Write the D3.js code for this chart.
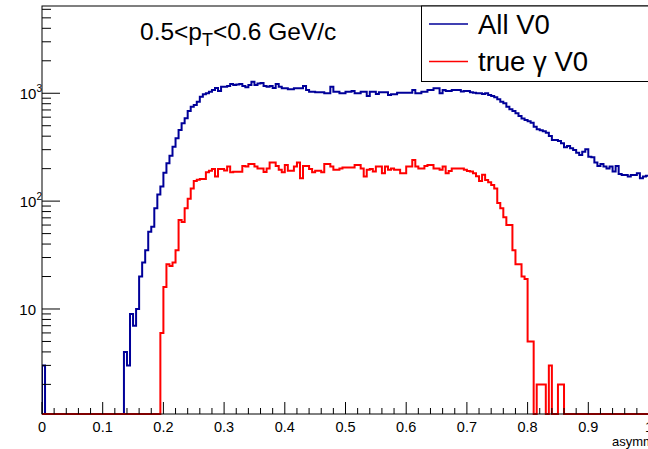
<!DOCTYPE html>
<html>
<head>
<meta charset="utf-8">
<script src="https://cdn.jsdelivr.net/npm/d3@7"></script>
<style>
  html, body { margin: 0; padding: 0; background: #fff; }
  svg { display: block; }
  text { font-family: "Liberation Sans", Arial, Helvetica, sans-serif; fill: #000; }
</style>
</head>
<body>
<svg id="chart" width="648" height="449"></svg>
<script>
// ---------- data ----------
const binWidth = 0.005;
const xTicks = [0, 0.1, 0.2, 0.3, 0.4, 0.5, 0.6, 0.7, 0.8, 0.9, 1];
const xTickLabels = ["0", "0.1", "0.2", "0.3", "0.4", "0.5", "0.6", "0.7", "0.8", "0.9", "1"];
const yTicks = [10, 100, 1000];
const yTickExps = ["", "2", "3"];
const seriesNames = ["All V0", "true \u03b3 V0"];
const xTitle = "asymmetry";

// All V0 (200 bins, width 0.005)
const allV0 = [
  3, 0, 0, 0, 0, 0, 0, 0, 0, 0,
  0, 0, 0, 0, 0, 0, 0, 0, 0, 0,
  0, 0, 0, 0, 0, 0, 0, 4, 3, 9,
  7, 10, 20, 27, 35, 52, 58, 86, 115, 137,
  183, 224, 263, 320, 383, 457, 527, 587, 685, 751,
  778, 836, 930, 978, 1000, 1035, 1073, 1120, 1050, 1152,
  1152, 1165, 1219, 1195, 1205, 1219, 1165, 1137, 1195, 1281,
  1195, 1230, 1246, 1165, 1152, 1165, 1120, 1219, 1152, 1113,
  1113, 1089, 1089, 1113, 1113, 1113, 1169, 1073, 1035, 1035,
  1022, 1022, 1022, 1000, 1000, 1152, 1035, 1035, 1000, 1000,
  1035, 1035, 1050, 1000, 1000, 1035, 1035, 944, 1035, 1035,
  985, 1022, 1022, 1022, 965, 978, 978, 1013, 1013, 1013,
  1013, 1013, 1073, 1000, 1000, 1035, 1035, 1073, 1073, 1113,
  1113, 1000, 1073, 1050, 1050, 1073, 1073, 1073, 1040, 1050,
  1050, 1020, 1010, 1000, 1000, 985, 1000, 965, 944, 918,
  880, 836, 808, 751, 710, 685, 653, 616, 582, 565,
  550, 534, 490, 463, 453, 444, 431, 402, 369, 369,
  361, 344, 316, 324, 309, 298, 281, 268, 287, 303,
  258, 255, 228, 212, 221, 209, 201, 209, 188, 212,
  178, 175, 175, 169, 175, 175, 181, 163, 169, 172
];

// true gamma V0 (200 bins, width 0.005)
const trueGammaV0 = [
  0, 0, 0, 0, 0, 0, 0, 0, 0, 0,
  0, 0, 0, 0, 0, 0, 0, 0, 0, 0,
  0, 0, 0, 0, 0, 0, 0, 0, 0, 0,
  0, 0, 0, 0, 0, 0, 0, 0, 0, 6,
  16, 26, 25, 27, 35, 67, 64, 86, 105, 131,
  154, 158, 160, 160, 185, 191, 198, 169, 198, 198,
  192, 209, 185, 187, 187, 187, 212, 209, 221, 221,
  209, 201, 201, 186, 201, 228, 228, 212, 195, 185,
  216, 191, 191, 209, 228, 163, 212, 212, 198, 185,
  191, 191, 185, 221, 221, 209, 195, 195, 201, 205,
  205, 205, 205, 216, 216, 201, 169, 195, 198, 188,
  209, 209, 181, 209, 195, 201, 195, 195, 181, 181,
  209, 209, 241, 209, 201, 201, 212, 216, 216, 201,
  201, 195, 209, 181, 190, 201, 201, 201, 201, 195,
  190, 188, 181, 170, 154, 176, 157, 150, 141, 131,
  96, 86, 71, 60, 60, 35, 26, 26, 20, 19,
  5, 5, 0, 2, 2, 2, 0, 3, 0, 0,
  2, 2, 0, 0, 0, 0, 0, 0, 0, 0,
  0, 0, 0, 0, 0, 0, 0, 0, 0, 0,
  0, 0, 0, 0, 0, 0, 0, 0, 0, 0
];

const colors = ["#000099", "#ff0000"];

// ---------- layout ----------
const svg = d3.select("#chart");
const plot = { left: 42, right: 649, top: 6, bottom: 414 };

const x = d3.scaleLinear().domain([0, 1]).range([plot.left, plot.right]);
const y = d3.scaleLog().domain([1.063, 6440]).range([plot.bottom, plot.top]);

svg.append("defs").append("clipPath").attr("id", "clip")
  .append("rect").attr("x", plot.left).attr("y", plot.top - 1)
  .attr("width", plot.right - plot.left).attr("height", plot.bottom - plot.top + 2);

function histPath(vals) {
  const yv = v => v > 0 ? Math.min(plot.bottom, y(v)) : plot.bottom;
  let d = `M${x(0)},${plot.bottom}`;
  vals.forEach((v, i) => {
    const x0 = x(i * binWidth), x1 = x((i + 1) * binWidth);
    d += `L${x0},${yv(v)}L${x1},${yv(v)}`;
  });
  d += `L${x(vals.length * binWidth)},${plot.bottom}`;
  return d;
}

const g = svg.append("g").attr("clip-path", "url(#clip)");
[allV0, trueGammaV0].forEach((vals, i) => {
  g.append("path").attr("d", histPath(vals))
    .attr("fill", "none").attr("stroke", colors[i])
    .attr("stroke-width", 2).attr("stroke-linejoin", "miter");
});

// frame
svg.append("rect").attr("x", plot.left).attr("y", plot.top)
  .attr("width", plot.right - plot.left).attr("height", plot.bottom - plot.top)
  .attr("fill", "none").attr("stroke", "#000").attr("stroke-width", 1);

// x axis ticks
const xMinor = d3.range(0, 1.0001, 0.02);
xMinor.forEach(t => {
  const isMajor = Math.abs(t * 10 - Math.round(t * 10)) < 1e-6;
  svg.append("line").attr("x1", x(t)).attr("x2", x(t))
    .attr("y1", plot.bottom).attr("y2", plot.bottom - (isMajor ? 12 : 6))
    .attr("stroke", "#000").attr("stroke-width", 1);
});
xTicks.forEach((t, i) => {
  svg.append("text").attr("x", x(t)).attr("y", 432)
    .attr("text-anchor", "middle").attr("font-size", 14.5)
    .text(xTickLabels[i]);
});
svg.append("text").attr("x", 612).attr("y", 446).attr("font-size", 13).text(xTitle);

// y axis ticks
const yDom = y.domain();
for (let e = 0; e <= 3; e++) {
  for (let m = 1; m <= 9; m++) {
    const v = m * Math.pow(10, e);
    if (v < yDom[0] || v > yDom[1]) continue;
    svg.append("line").attr("x1", plot.left).attr("x2", plot.left + (m === 1 ? 18 : 9))
      .attr("y1", y(v)).attr("y2", y(v)).attr("stroke", "#000").attr("stroke-width", 1);
  }
}
yTicks.forEach((t, i) => {
  const tx = svg.append("text").attr("x", 36).attr("y", y(t) + 6)
    .attr("text-anchor", "end").attr("font-size", 15);
  if (yTickExps[i]) {
    tx.attr("x", 42);
    tx.append("tspan").text("10");
    tx.append("tspan").attr("dy", -7).attr("font-size", 10).text(yTickExps[i]);
  } else {
    tx.text("10");
  }
});

// title
const title = svg.append("text").attr("x", 140).attr("y", 39.5).attr("font-size", 24.5);
title.append("tspan").text("0.5<p");
title.append("tspan").attr("dy", 6).attr("font-size", 18).text("T");
title.append("tspan").attr("dy", -6).text("<0.6 GeV/c");

// legend
const leg = { x: 421.5, y: 6, w: 240, h: 75.5 };
svg.append("rect").attr("x", leg.x).attr("y", leg.y).attr("width", leg.w).attr("height", leg.h)
  .attr("fill", "#fff").attr("stroke", "#000").attr("stroke-width", 1);
const legY = [24, 61.5];
seriesNames.forEach((name, i) => {
  svg.append("line").attr("x1", 429).attr("x2", 468).attr("y1", legY[i]).attr("y2", legY[i])
    .attr("stroke", colors[i]).attr("stroke-width", 1.3);
  svg.append("text").attr("x", 478).attr("y", legY[i] + 9.5).attr("font-size", 27.5).text(name);
});
</script>
</body>
</html>
